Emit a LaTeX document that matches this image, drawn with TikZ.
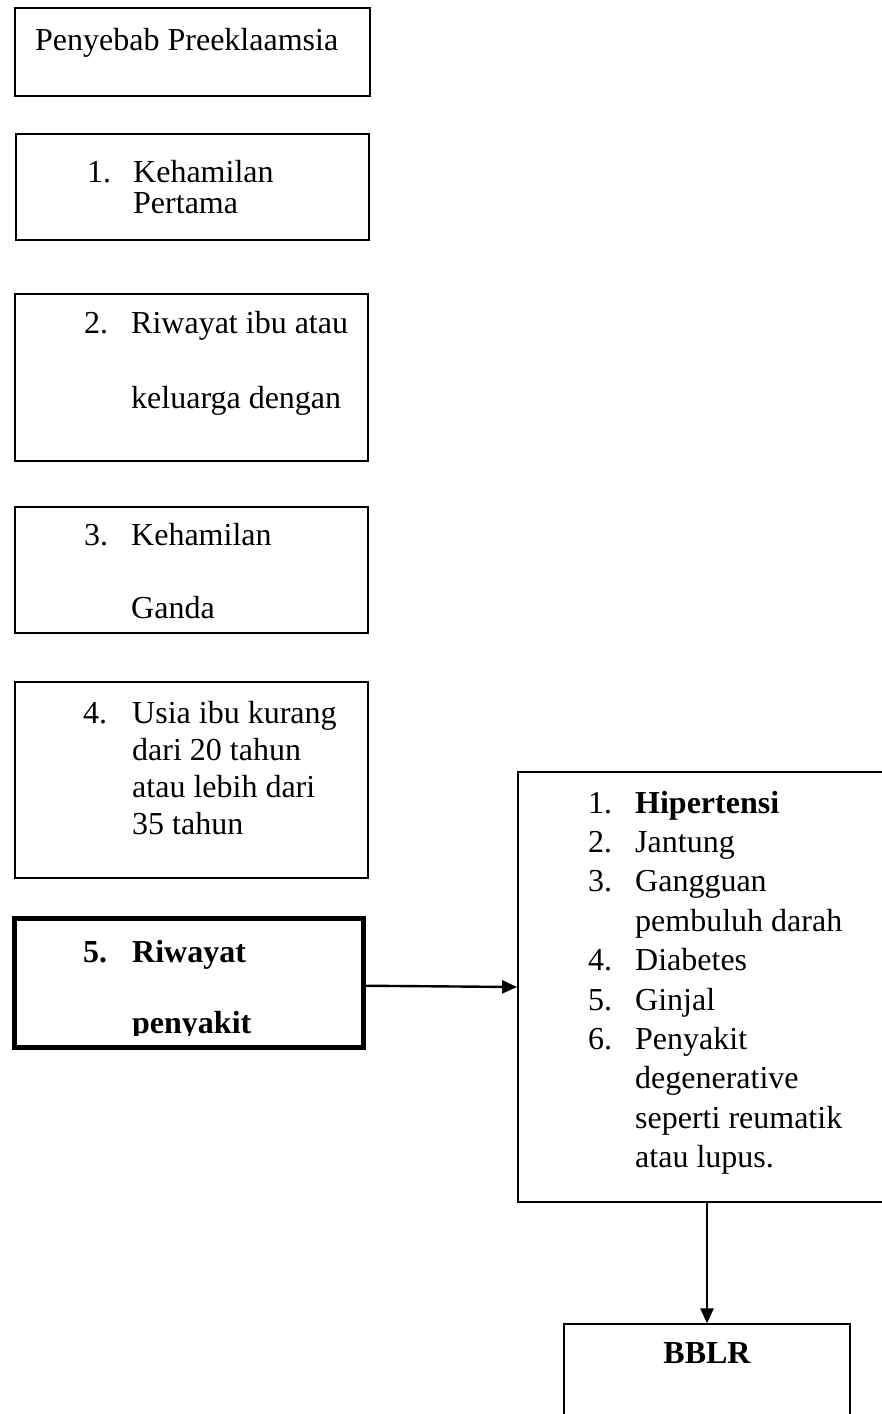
\documentclass[tikz,border=0pt]{standalone}
\usepackage{fontspec}
\setmainfont{Liberation Serif}
\usetikzlibrary{arrows.meta}

\begin{document}
\begin{tikzpicture}[x=1pt,y=-1pt,
    box/.style={draw,line width=1.2pt,inner sep=0pt},
    txt/.style={anchor=base west,inner sep=0pt,align=left},
    arrow/.style={-{Triangle[length=15pt,width=13pt]},line width=2.4pt}]
  \useasboundingbox (0,0) rectangle (882,1414);
  \clip (0,0) rectangle (882,1414);
  % kotak penyebab
  \node[box,line width=1.8pt,minimum width=355pt,minimum height=88pt] (b0) at (192.5,52) {};
  \node[box,minimum width=353pt,minimum height=106pt] (b1) at (192.5,187) {};
  \node[box,minimum width=353pt,minimum height=167pt] (b2) at (191.5,377.5) {};
  \node[box,minimum width=353pt,minimum height=126pt] (b3) at (191.5,570) {};
  \node[box,minimum width=353pt,minimum height=196pt] (b4) at (191.5,780) {};
  \node[box,line width=5pt,minimum width=349pt,minimum height=128.5pt] (b5) at (189,982.75) {};
  \node[box,line width=1.8pt,minimum width=378pt,minimum height=430pt] (causes) at (707,987) {};
  \node[box,minimum width=286pt,minimum height=136pt] (bblr) at (707,1392) {};
  % teks (titik = garis dasar baris terakhir)
  \node[txt,font=\fontsize{32}{31}\selectfont] (t0) at (35,50) {Penyebab Preeklaamsia};
  \node[txt,font=\fontsize{32}{31}\selectfont] (n1) at (87,182) {1.};
  \node[txt,font=\fontsize{32}{31}\selectfont] (t1) at (133,213) {Kehamilan\\Pertama};
  \node[txt,font=\fontsize{32}{75}\selectfont] (n2) at (84,333) {2.};
  \node[txt,font=\fontsize{32}{75}\selectfont] (t2) at (131,408) {Riwayat ibu atau\\keluarga dengan};
  \node[txt,font=\fontsize{32}{73}\selectfont] (n3) at (84,545) {3.};
  \node[txt,font=\fontsize{32}{73}\selectfont] (t3) at (131,618) {Kehamilan\\Ganda};
  \node[txt,font=\fontsize{32}{37}\selectfont] (n4) at (83,723) {4.};
  \node[txt,font=\fontsize{32}{37}\selectfont] (t4) at (132,834) {Usia ibu kurang\\dari 20 tahun\\atau lebih dari\\35 tahun};
  \begin{scope}
    \clip (17,921) rectangle (361,1035);
    \node[txt,font=\fontsize{32}{71}\selectfont\bfseries] (n5) at (83,962) {5.};
    \node[txt,font=\fontsize{32}{71}\selectfont\bfseries] (t5) at (132,1033) {Riwayat\\penyakit};
  \end{scope}
  \node[txt,font=\fontsize{32}{39.4}\selectfont] (nc) at (588,1049.4) {1.\\2.\\3.\\\mbox{}\\4.\\5.\\6.};
  \node[txt,font=\fontsize{32}{39.4}\selectfont] (tc) at (635,1167.6) {\textbf{Hipertensi}\\Jantung\\Gangguan\\pembuluh darah\\Diabetes\\Ginjal\\Penyakit\\degenerative\\seperti reumatik\\atau lupus.};
  \node[anchor=base,inner sep=0pt,font=\fontsize{32}{38}\selectfont\bfseries] (tb) at (707,1363) {BBLR};
  % panah
  \draw[arrow] ([yshift=-3pt]b5.east) -- (causes.west);
  \draw[arrow] (causes.south) -- (bblr.north);
\end{tikzpicture}
\end{document}
